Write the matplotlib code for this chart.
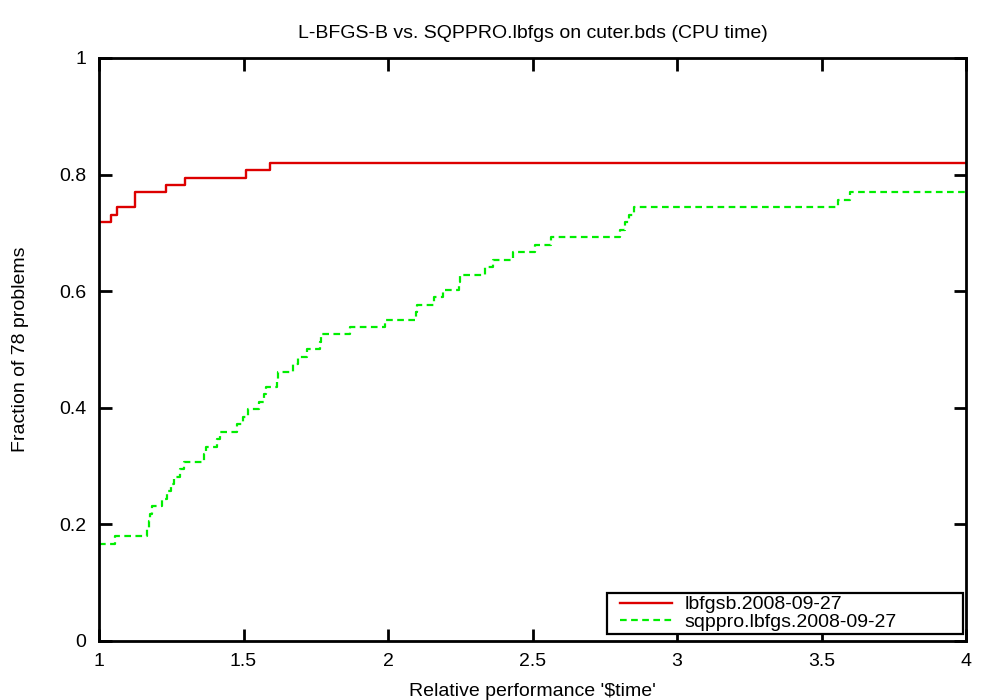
import numpy as np
import matplotlib
matplotlib.use('Agg')
import matplotlib.pyplot as plt
from matplotlib.ticker import FormatStrFormatter
from matplotlib.lines import Line2D
from matplotlib.legend_handler import HandlerLine2D

n_prob = 78

# performance ratio where each solver gains one more solved problem
lbfgsb_tau = [1.0, 1.04, 1.061, 1.125, 1.125, 1.232, 1.297, 1.509, 1.591, 4.0]
lbfgsb_cnt = [56, 57, 58, 59, 60, 61, 62, 63, 64, 64]

sqppro_tau = [1.0, 1.054, 1.167, 1.172, 1.178, 1.185, 1.219, 1.234, 1.25, 1.26,
              1.28, 1.294, 1.365, 1.37, 1.41, 1.419, 1.476, 1.499, 1.514, 1.553,
              1.57, 1.577, 1.615, 1.62, 1.67, 1.689, 1.72, 1.765, 1.769, 1.868,
              1.99, 2.097, 2.099, 2.16, 2.189, 2.245, 2.249, 2.337, 2.362, 2.432,
              2.507, 2.565, 2.803, 2.82, 2.835, 2.852, 3.557, 3.598, 4.0]
sqppro_cnt = [13, 14, 15, 16, 17, 18, 19, 20, 21, 22,
              23, 24, 25, 26, 27, 28, 29, 30, 31, 32,
              33, 34, 35, 36, 37, 38, 39, 40, 41, 42,
              43, 44, 45, 46, 47, 48, 49, 50, 51, 52,
              53, 54, 55, 56, 57, 58, 59, 60, 60]

plt.rcParams['font.family'] = ['Liberation Sans', 'DejaVu Sans']

fig = plt.figure(figsize=(10, 7), dpi=100)
ax = fig.add_axes([0.099, 0.0843, 0.867, 0.833])

ax.step(lbfgsb_tau, np.array(lbfgsb_cnt) / n_prob, where='post',
        color='#dd0000', lw=1.7, label='lbfgsb.2008-09-27')
ax.step(sqppro_tau, np.array(sqppro_cnt) / n_prob, where='post',
        color='#00ee00', lw=1.6, dashes=(3, 2), label='sqppro.lbfgs.2008-09-27')

ax.set_xlim(1, 4)
ax.set_ylim(0, 1)
ax.set_xticks(np.arange(1, 4.01, 0.5))
ax.set_yticks(np.arange(0, 1.01, 0.2))
ax.xaxis.set_major_formatter(FormatStrFormatter('%g'))
ax.yaxis.set_major_formatter(FormatStrFormatter('%g'))
ax.tick_params(direction='in', length=9, width=2, top=True, right=True,
               labelsize=14, pad=9)
for s in ax.spines.values():
    s.set_linewidth(2)

ax.set_title("L-BFGS-B vs. SQPPRO.lbfgs on cuter.bds (CPU time)", fontsize=14, pad=14)
ax.set_xlabel(r"Relative performance '\$time'", fontsize=14, labelpad=9)
ax.set_ylabel("Fraction of 78 problems", fontsize=14, labelpad=22)

leg = ax.legend(loc='lower left', bbox_to_anchor=(0.586, 0.012, 0.4106, 0.077),
                mode='expand', fontsize=14, fancybox=False, framealpha=1,
                edgecolor='black', borderpad=0.15, labelspacing=0.0,
                handlelength=3.2, handletextpad=0.62, borderaxespad=0,
                handler_map={Line2D: HandlerLine2D(xpad=0.52)})
leg.get_frame().set_linewidth(1.6)

fig.savefig('out.png', dpi=100)
